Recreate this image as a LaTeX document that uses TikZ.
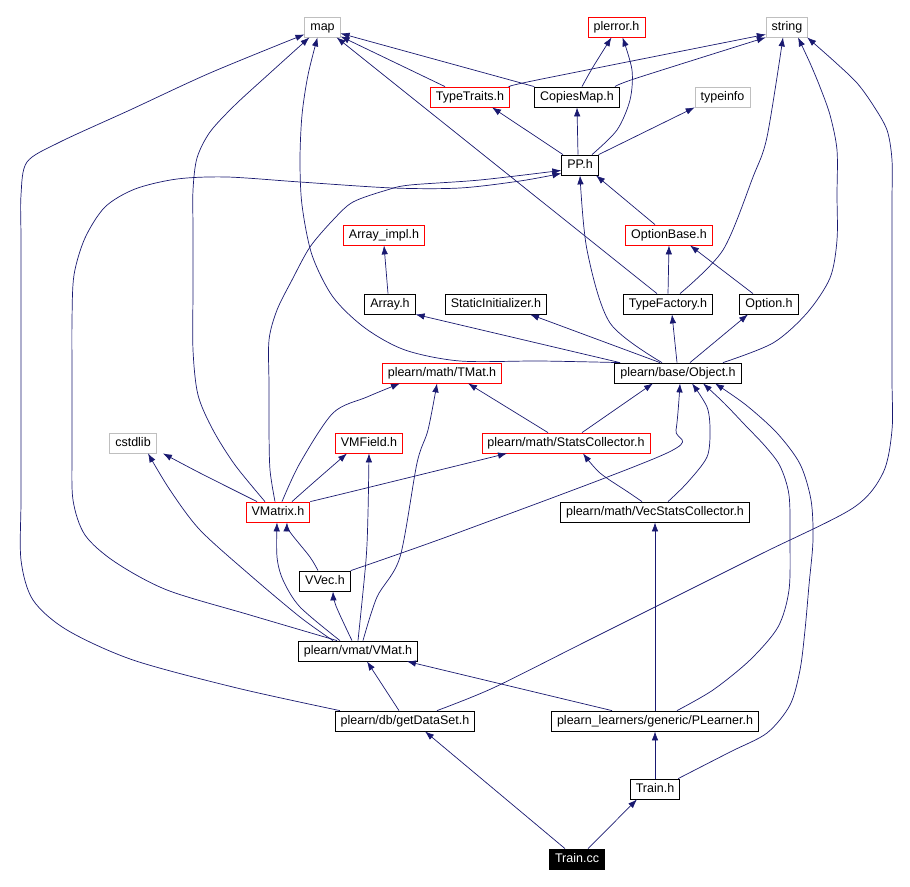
\documentclass[tikz,border=0pt]{standalone}
\usepackage{fontspec}
\setmainfont{Liberation Sans}
\usetikzlibrary{arrows.meta}
\definecolor{depblue}{HTML}{191970}
\definecolor{extgray}{HTML}{BFBFBF}
\definecolor{docred}{HTML}{FF0000}

\begin{document}
\begin{tikzpicture}[x=1pt,y=-1pt,font=\fontsize{12.5}{14}\selectfont,
  hdr/.style={draw=black,fill=white,line width=0.8pt,inner xsep=5.5pt,inner ysep=0pt,minimum height=20pt,text height=9.5pt,text depth=2.5pt},
  hdrred/.style={hdr,draw=docred},
  hdrext/.style={hdr,draw=extgray},
  dep/.style={depblue,line width=0.7pt,-{Latex[length=9pt,width=6.5pt]}},
  spline/.style={smooth,tension=0.5}]
\useasboundingbox (0,0) rectangle (910,886);
% headers, top to bottom
\node[hdrext] (map) at (322.5,27) {map};
\node[hdrred] (plerror) at (616.5,27) {plerror.h};
\node[hdrext] (string) at (787,27) {string};
\node[hdrred] (typetraits) at (470,97) {TypeTraits.h};
\node[hdr] (copiesmap) at (577,97) {CopiesMap.h};
\node[hdrext] (typeinfo) at (722.5,97) {typeinfo};
\node[hdr] (pph) at (580,165) {PP.h};
\node[hdrred] (arrayimpl) at (384,235) {Array\_impl.h};
\node[hdrred] (optionbase) at (669,235) {OptionBase.h};
\node[hdr] (array) at (390,304) {Array.h};
\node[hdr] (staticinit) at (496,304) {StaticInitializer.h};
\node[hdr] (typefactory) at (668,304) {TypeFactory.h};
\node[hdr] (option) at (769,304) {Option.h};
\node[hdrred] (tmat) at (442,373) {plearn/math/TMat.h};
\node[hdr] (object) at (678,373) {plearn/base/Object.h};
\node[hdrext] (cstdlib) at (133,443) {cstdlib};
\node[hdrred] (vmfield) at (369,443) {VMField.h};
\node[hdrred] (statscoll) at (566,443) {plearn/math/StatsCollector.h};
\node[hdrred] (vmatrix) at (278,512) {VMatrix.h};
\node[hdr] (vecstats) at (655,512) {plearn/math/VecStatsCollector.h};
\node[hdr] (vvec) at (325,581) {VVec.h};
\node[hdr] (vmat) at (358,651) {plearn/vmat/VMat.h};
\node[hdr] (getdataset) at (405,721) {plearn/db/getDataSet.h};
\node[hdr] (plearner) at (655,721) {plearn\_learners/generic/PLearner.h};
\node[hdr] (trainh) at (655,789) {Train.h};
\node[hdr,fill=black,text=white] (traincc) at (577,859) {Train.cc};

% Train.cc and Train.h
\draw[dep] ([xshift=-12pt]traincc.north) -- ([xshift=20pt]getdataset.south);
\draw[dep] ([xshift=11pt]traincc.north) -- ([xshift=-18pt]trainh.south);
\draw[dep] (trainh.north) -- (plearner.south);
\draw[dep] plot[spline] coordinates {([xshift=-2pt]trainh.north east) (730,752) (767,733) (790,705) (800,670) (805,630) (809,585) (813,540) (811,500) (800,464) (777,433) (746,405) ([xshift=37pt]object.south)};
% PLearner.h
\draw[dep] ([xshift=-43pt]plearner.north) -- ([xshift=49pt]vmat.south);
\draw[dep] (plearner.north) -- (vecstats.south);
\draw[dep] plot[spline] coordinates {([xshift=22pt]plearner.north) (713,690) (750,660) (778,627) (789,590) (790,540) (789,495) (780,466) (765,446) (745,425) (724,403) ([xshift=25pt]object.south)};
% getDataSet.h
\draw[dep] ([xshift=-6pt]getdataset.north) -- ([xshift=9pt]vmat.south);
\draw[dep] plot[spline] coordinates {([xshift=5pt]getdataset.north west) (237,688) (133,660) (67,630) (33,600) (21,560) (21,500) (21,420) (21,320) (21,240) (21,195) (27,162) (60,142) (130,110) (210,73) ([yshift=3pt]map.south west)};
\draw[dep] plot[spline] coordinates {([xshift=32pt]getdataset.north) (493,688) (583,643) (673,598) (763,553) (853,508) (883,473) (892,430) (892,380) (892,310) (892,250) (892,200) (892,160) (887,130) (873,105) (857,83) (835,62) ([xshift=-1pt]string.south east)};
% VMat.h
\draw[dep] plot[spline] coordinates {([xshift=-21pt]vmat.north) (250,615) (167,590) (115,562) (85,535) (73,500) (72,450) (72,380) (72,320) (74,275) (85,238) (105,207) (135,189) (177,179) (227,177) (300,182) (393,188) (460,188) (520,181) ([yshift=2pt]pph.south west)};
\draw[dep] plot[spline] coordinates {([xshift=-25pt]vmat.north) (300,617) (250,575) (200,530) (170,490) ([xshift=15pt]cstdlib.south)};
\draw[dep] plot[spline] coordinates {([xshift=-18pt]vmat.north) (300,607) (283,580) (277,557) ([xshift=-1pt]vmatrix.south)};
\draw[dep] plot[spline] coordinates {([xshift=-6pt]vmat.north) (336,606) ([xshift=8pt]vvec.south)};
\draw[dep] plot[spline] coordinates {(vmat.north) (366,560) (368,513) (vmfield.south)};
\draw[dep] plot[spline] coordinates {([xshift=5pt]vmat.north) (377,597) (400,557) (417,463) (428,430) ([xshift=-5pt]tmat.south)};
% VMatrix.h and VVec.h
\draw[dep] plot[spline] coordinates {([xshift=-3pt]vmatrix.north) (270,470) (269,430) (269,385) (269,340) (277,310) (292,280) (310,247) (333,220) (353,202) (387,190) (410,185) (480,180) ([yshift=5pt]pph.south west)};
\draw[dep] plot[spline] coordinates {([xshift=-13pt]vmatrix.north) (235,465) (213,430) (198,395) (193,350) (193,290) (193,230) (193,190) (197,158) (210,132) (235,105) (270,73) ([xshift=5pt]map.south west)};
\draw[dep] plot[spline] coordinates {([xshift=-21pt]vmatrix.north) (200,473) ([xshift=30pt]cstdlib.south)};
\draw[dep] plot[spline] coordinates {([xshift=14pt]vmatrix.north) (313,483) ([xshift=-22pt]vmfield.south)};
\draw[dep] plot[spline] coordinates {([xshift=4pt]vmatrix.north) (300,463) (333,413) (367,397) ([xshift=-42pt]tmat.south)};
\draw[dep] plot[spline] coordinates {(vmatrix.north east) (350,492) (460,465) ([xshift=-59pt]statscoll.south)};
\draw[dep] plot[spline] coordinates {([xshift=-7pt]vvec.north) (310,557) (290,532) ([xshift=9pt]vmatrix.south)};
\draw[dep] plot[spline] coordinates {(vvec.north east) (460,532) (667,453) (676,430) ([xshift=2pt]object.south)};
% collectors
\draw[dep] plot[spline] coordinates {([xshift=-13pt]vecstats.north) (628,492) (600,473) ([xshift=17pt]statscoll.south)};
\draw[dep] plot[spline] coordinates {([xshift=13pt]vecstats.north) (687,483) (707,457) (710,430) (707,407) ([xshift=14pt]object.south)};
\draw[dep] ([xshift=-18pt]statscoll.north) -- ([xshift=26pt]tmat.south);
\draw[dep] ([xshift=16pt]statscoll.north) -- ([xshift=-25pt]object.south);
% Object.h
\draw[dep] ([xshift=-58pt]object.north) -- (array.south east);
\draw[dep] plot[spline] coordinates {([xshift=-58pt]object.north) (540,361) (460,361) (405,350) (365,328) (333,297) (312,255) (302,205) (300,160) (302,115) (308,75) ([xshift=-5pt]map.south)};
\draw[dep] ([xshift=-18pt]object.north) -- ([xshift=34pt]staticinit.south);
\draw[dep] ([xshift=-1pt]object.north) -- ([xshift=4pt]typefactory.south);
\draw[dep] ([xshift=12pt]object.north) -- ([xshift=-21pt]option.south);
\draw[dep] plot[spline] coordinates {([xshift=-16pt]object.north) (610,323) (587,250) (pph.south)};
\draw[dep] plot[spline] coordinates {([xshift=45pt]object.north) (773,343) (807,313) (830,278) (837,240) (837,195) (837,150) (830,115) (820,87) (810,63) ([xshift=11pt]string.south)};
% options and types
\draw[dep] (typefactory.north) -- (optionbase.south);
\draw[dep] ([xshift=-11pt]typefactory.north) -- ([xshift=-4pt]map.south east);
\draw[dep] plot[spline] coordinates {([xshift=12pt]typefactory.north) (723,250) (753,177) (767,137) ([xshift=-4pt]string.south)};
\draw[dep] ([xshift=-16pt]option.north) -- ([xshift=21pt]optionbase.south);
\draw[dep] ([xshift=-14pt]optionbase.north) -- ([xshift=16pt]pph.south);
\draw[dep] ([xshift=-2pt]array.north) -- (arrayimpl.south);
% PP.h and its includes
\draw[dep] ([xshift=-17pt]pph.north) -- ([xshift=22pt]typetraits.south);
\draw[dep] ([xshift=-2pt]pph.north) -- (copiesmap.south);
\draw[dep] (pph.north east) -- (typeinfo.south west);
\draw[dep] plot[spline] coordinates {([xshift=12pt]pph.north) (617,130) (630,100) (632,70) ([xshift=6pt]plerror.south)};
\draw[dep] plot[spline] coordinates {([xshift=5pt]copiesmap.north) (593,67) ([xshift=-5pt]plerror.south)};
\draw[dep] (copiesmap.north west) -- ([yshift=4pt]map.south east);
\draw[dep] plot[spline] coordinates {([xshift=38pt]copiesmap.north) (637,78) (string.south west)};
\draw[dep] ([xshift=-25pt]typetraits.north) -- ([yshift=1pt]map.south east);
\draw[dep] plot[spline] coordinates {([xshift=40pt]typetraits.north) (537,80) ([yshift=3pt]string.south west)};
\end{tikzpicture}
\end{document}
